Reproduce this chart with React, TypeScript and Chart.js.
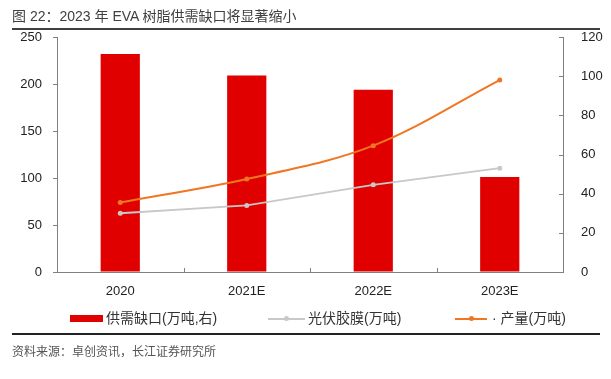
import React, { useEffect, useRef } from "react";
import { Chart, registerables } from "chart.js";

Chart.register(...registerables);

const categories = ["2020", "2021E", "2022E", "2023E"];
const gapValues = [232, 209, 194, 101];
const pvFilmValues = [30, 34, 44.5, 53];
const outputValues = [35.5, 47.5, 64.5, 98];
const leftTicks = [0, 50, 100, 150, 200, 250];
const rightTicks = [0, 20, 40, 60, 80, 100, 120];

const RED = "#E00000";
const GRAY = "#C8C8C8";
const ORANGE = "#F07622";
const AXIS = "#808080";
const FONT = '"Liberation Sans", "Noto Sans CJK SC", sans-serif';

const innerTicks = {
  id: "innerTicks",
  afterDraw(chart: any) {
    const { ctx, chartArea, scales } = chart;
    ctx.save();
    ctx.strokeStyle = AXIS;
    ctx.lineWidth = 1;
    const y1 = scales.y1;
    y1.ticks.forEach((t: any) => {
      const py = Math.round(y1.getPixelForValue(t.value)) + 0.5;
      ctx.beginPath();
      ctx.moveTo(chartArea.right - 4, py);
      ctx.lineTo(chartArea.right, py);
      ctx.stroke();
    });
    const x = scales.x;
    for (let i = 1; i < categories.length; i++) {
      const px = Math.round((x.getPixelForValue(i - 1) + x.getPixelForValue(i)) / 2) + 0.5;
      ctx.beginPath();
      ctx.moveTo(px, chartArea.bottom);
      ctx.lineTo(px, chartArea.bottom - 4);
      ctx.stroke();
    }
    ctx.restore();
  },
};

export default function App() {
  const ref = useRef<HTMLCanvasElement | null>(null);

  useEffect(() => {
    document.body.style.margin = "0";
    const ctx = ref.current!;
    const chart = new Chart(ctx, {
      type: "bar",
      data: {
        labels: categories,
        datasets: [
          {
            type: "line",
            label: "产量(万吨)",
            data: outputValues,
            yAxisID: "y1",
            borderColor: ORANGE,
            backgroundColor: ORANGE,
            borderWidth: 2,
            pointRadius: 2.5,
            pointBackgroundColor: ORANGE,
            pointBorderWidth: 0,
            tension: 0.35,
            order: 1,
          },
          {
            type: "line",
            label: "光伏胶膜(万吨)",
            data: pvFilmValues,
            yAxisID: "y1",
            borderColor: GRAY,
            backgroundColor: GRAY,
            borderWidth: 1.8,
            pointRadius: 2.5,
            pointBackgroundColor: GRAY,
            pointBorderWidth: 0,
            tension: 0,
            order: 2,
          },
          {
            type: "bar",
            label: "供需缺口(万吨,右)",
            data: gapValues,
            yAxisID: "y",
            backgroundColor: RED,
            categoryPercentage: 1,
            barPercentage: 0.31,
            order: 3,
          },
        ],
      },
      options: {
        responsive: false,
        animation: false,
        devicePixelRatio: 1,
        layout: { padding: { left: 0, right: 0, top: 37, bottom: 0 } },
        plugins: { legend: { display: false }, tooltip: { enabled: false }, title: { display: false } },
        scales: {
          x: {
            offset: true,
            grid: { display: false },
            border: { display: true, color: AXIS, width: 1 },
            ticks: { color: "#222", font: { family: FONT, size: 13 }, padding: 4 },
            afterFit: (s: any) => {
              s.height = 107;
            },
          },
          y: {
            position: "left",
            min: 0,
            max: 250,
            afterBuildTicks: (s: any) => {
              s.ticks = leftTicks.map((v) => ({ value: v }));
            },
            grid: { display: true, drawOnChartArea: false, drawTicks: true, tickLength: 4, color: AXIS },
            border: { display: true, color: AXIS, width: 1 },
            ticks: { color: "#222", font: { family: FONT, size: 13 }, padding: 11 },
            afterFit: (s: any) => {
              s.width = 57;
            },
          },
          y1: {
            position: "right",
            min: 0,
            max: 120,
            afterBuildTicks: (s: any) => {
              s.ticks = rightTicks.map((v) => ({ value: v }));
            },
            grid: { display: false },
            border: { display: true, color: AXIS, width: 1 },
            ticks: { color: "#222", font: { family: FONT, size: 13 }, padding: 10 },
            afterFit: (s: any) => {
              s.width = 48;
            },
          },
        },
      },
      plugins: [innerTicks],
    });
    return () => chart.destroy();
  }, []);

  const textStyle: React.CSSProperties = {
    position: "absolute",
    fontFamily: FONT,
    color: "#333",
    whiteSpace: "nowrap",
    lineHeight: "1",
  };

  return (
    <div style={{ position: "fixed", left: 0, top: 0, width: 611, height: 379, background: "#fff", overflow: "hidden" }}>
      <canvas ref={ref} width={611} height={379} style={{ position: "absolute", left: 0, top: 0, width: 611, height: 379 }} />
      <div style={{ ...textStyle, left: 12, top: 9, fontSize: 14, color: "#404040" }}>
        图 22：2023 年 EVA 树脂供需缺口将显著缩小
      </div>
      <div style={{ position: "absolute", left: 12, top: 28, width: 588, height: 1.5, background: "#404040" }} />
      {/* legend */}
      <div style={{ position: "absolute", left: 70, top: 315, width: 33, height: 7, background: RED }} />
      <div style={{ ...textStyle, left: 106, top: 311, fontSize: 14 }}>供需缺口(万吨,右)</div>
      <div style={{ position: "absolute", left: 268, top: 318, width: 37, height: 1.5, background: GRAY }} />
      <div style={{ position: "absolute", left: 284, top: 316, width: 5, height: 5, borderRadius: 3, background: GRAY }} />
      <div style={{ ...textStyle, left: 308, top: 311, fontSize: 14 }}>光伏胶膜(万吨)</div>
      <div style={{ position: "absolute", left: 455, top: 318, width: 32, height: 1.5, background: ORANGE }} />
      <div style={{ position: "absolute", left: 469, top: 316, width: 5, height: 5, borderRadius: 3, background: ORANGE }} />
      <div style={{ ...textStyle, left: 492, top: 311, fontSize: 14 }}>· 产量(万吨)</div>
      <div style={{ position: "absolute", left: 12, top: 333, width: 588, height: 1.5, background: "#222" }} />
      <div style={{ ...textStyle, left: 12, top: 346, fontSize: 12, color: "#555" }}>资料来源：卓创资讯，长江证券研究所</div>
    </div>
  );
}
